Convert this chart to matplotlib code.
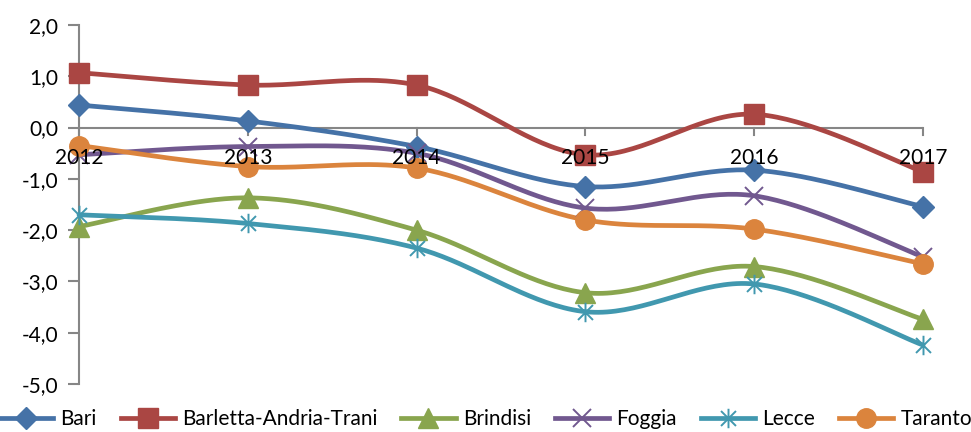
import numpy as np
import matplotlib
matplotlib.use("Agg")
import matplotlib.pyplot as plt
from matplotlib.path import Path

years = [2012, 2013, 2014, 2015, 2016, 2017]
year_labels = ["2012", "2013", "2014", "2015", "2016", "2017"]
y_ticks = [2, 1, 0, -1, -2, -3, -4, -5]
y_tick_labels = ["2,0", "1,0", "0,0", "-1,0", "-2,0", "-3,0", "-4,0", "-5,0"]

bari = [0.44, 0.13, -0.37, -1.15, -0.83, -1.54]
bat = [1.07, 0.83, 0.83, -0.53, 0.26, -0.86]
brindisi = [-1.93, -1.37, -2.00, -3.22, -2.71, -3.74]
foggia = [-0.53, -0.37, -0.50, -1.57, -1.33, -2.52]
lecce = [-1.70, -1.87, -2.35, -3.59, -3.05, -4.24]
taranto = [-0.35, -0.76, -0.79, -1.80, -1.98, -2.66]

names = ["Bari", "Barletta-Andria-Trani", "Brindisi", "Foggia", "Lecce", "Taranto"]
series = [bari, bat, brindisi, foggia, lecce, taranto]
colors = ["#4572A7", "#AA4643", "#89A54E", "#71588F", "#4198AF", "#DB843D"]

star = Path([(-1, -1), (1, 1), (-1, 1), (1, -1), (0, -1.3), (0, 1.3)],
            [Path.MOVETO, Path.LINETO, Path.MOVETO, Path.LINETO, Path.MOVETO, Path.LINETO])
markers = ["D", "s", "^", "x", star, "o"]
msizes = [11.5, 14, 14, 13, 14, 14]


def smooth(x, y, n=40):
    x = np.asarray(x, float)
    y = np.asarray(y, float)
    P = np.column_stack([x, y])
    out = []
    m = len(P)
    for i in range(m - 1):
        p0 = P[i - 1] if i > 0 else P[i]
        p1 = P[i]
        p2 = P[i + 1]
        p3 = P[i + 2] if i + 2 < m else P[i + 1]
        c1 = p1 + (p2 - p0) / 6.0
        c2 = p2 - (p3 - p1) / 6.0
        t = np.linspace(0, 1, n)[:, None]
        seg = ((1 - t) ** 3) * p1 + 3 * ((1 - t) ** 2) * t * c1 + 3 * (1 - t) * t ** 2 * c2 + t ** 3 * p2
        if i > 0:
            seg = seg[1:]
        out.append(seg)
    out = np.vstack(out)
    return out[:, 0], out[:, 1]


W, H = 971, 432
FS = 15
fig = plt.figure(figsize=(W / 100, H / 100), dpi=100)
plt.rcParams['font.family'] = ['Lato', 'DejaVu Sans']
ax = fig.add_axes([79 / W, (H - 384) / H, (923 - 79) / W, (384 - 25) / H])
ax.set_xlim(2012, 2017)
ax.set_ylim(-5, 2)

LW = 3.4
handles = []
for name, vals, c, mk, ms in zip(names, series, colors, markers, msizes):
    thin = (isinstance(mk, str) and mk == "x") or mk is star
    sx, sy = smooth(years, vals)
    ax.plot(sx, sy, color=c, lw=LW, solid_capstyle='round', zorder=3, clip_on=False)
    ax.plot(years, vals, linestyle='none', marker=mk, markersize=ms, color=c,
            markeredgecolor=c, markeredgewidth=1.4 if thin else 1.0, zorder=4, clip_on=False)
    h, = ax.plot([], [], color=c, lw=LW, marker=mk, markersize=ms, markeredgecolor=c,
                 markeredgewidth=1.4 if thin else 1.0)
    handles.append(h)

for s in ["top", "right", "bottom"]:
    ax.spines[s].set_visible(False)
ax.spines["left"].set_color("#868686")
ax.spines["left"].set_linewidth(1.5)
ax.spines["left"].set_zorder(1)

# x-axis line at zero
ax.axhline(0, color="#868686", lw=1.5, zorder=1)
for yr in years:
    ax.plot([yr, yr], [0, -0.14], color="#868686", lw=1.5, zorder=1, clip_on=False)

ax.set_yticks(y_ticks)
ax.set_yticklabels(y_tick_labels, fontsize=FS)
ax.tick_params(axis='y', length=8, width=1.5, color="#868686", pad=7)
ax.set_xticks([])

for yr, lab in zip(years, year_labels):
    ax.text(yr, -0.6, lab, ha='center', va='center', fontsize=FS, color='black', zorder=10)

fig.legend(handles, names, loc='center', bbox_to_anchor=(0.5, (H - 419) / H), ncol=6,
           frameon=False, fontsize=FS, handlelength=2.6, columnspacing=1.15,
           handletextpad=0.35, borderaxespad=0, borderpad=0)

fig.savefig("out.png", dpi=100)
